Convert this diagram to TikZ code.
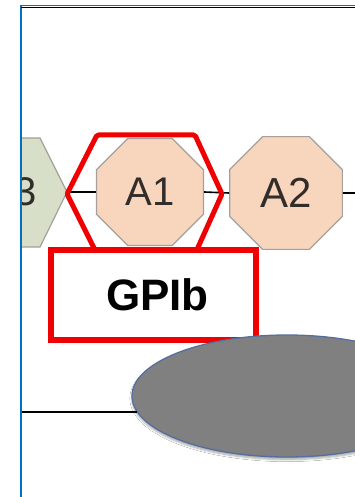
\documentclass[tikz,border=0pt]{standalone}
\usepackage{fontspec}
\setmainfont{Liberation Sans}
\usetikzlibrary{shapes.geometric,shadows.blur}
\definecolor{peach}{HTML}{F8D6BE}
\definecolor{sage}{HTML}{D7DFC8}
\definecolor{polyedge}{RGB}{165,160,155}
\definecolor{labelgray}{RGB}{50,45,40}
\definecolor{framblue}{RGB}{0,112,192}
\definecolor{gpred}{RGB}{240,0,0}
\definecolor{ellgray}{RGB}{128,128,128}
\definecolor{elledge}{RGB}{85,110,160}
\tikzset{
  domoct/.style={regular polygon, regular polygon sides=8, inner sep=0pt,
    fill=peach, draw=polyedge, line width=1.2pt, text=labelgray,
    font=\fontsize{40}{40}\selectfont},
  domlabel/.style={inner sep=0pt, text=labelgray, font=\fontsize{40}{40}\selectfont},
  hexshape/.style={fill=sage, draw=polyedge, line width=1.2pt},
  linker/.style={draw=black, line width=1.6pt},
  redmark/.style={draw=gpred, line width=5pt, line join=round, rounded corners=1.5pt},
  gpbox/.style={draw=gpred, line width=5.5pt, fill=white, minimum width=205pt,
    minimum height=90pt, inner sep=0pt, font=\fontsize{44}{44}\selectfont\bfseries},
  membrane/.style={ellipse, fill=ellgray, draw=elledge, line width=1.3pt,
    minimum width=310pt, minimum height=122pt, inner sep=0pt,
    blur shadow={shadow blur steps=6, shadow xshift=0pt, shadow yshift=-2.5pt, shadow opacity=35}}
}
\begin{document}
\begin{tikzpicture}[x=1pt,y=-1pt]
\useasboundingbox (0,0) rectangle (355,497);
\fill[white] (0,0) rectangle (355,497);
\begin{scope}
\clip (21,7) rectangle (355,497);
% D3 hexagon (partially hidden by the frame)
\filldraw[hexshape] (67,192) -- (40,138) -- (-18,138) -- (-45,192) -- (-18,247) -- (40,247) -- cycle;
\node[domlabel] (d3) at (11,192) {D3};
\coordinate (d3r) at (67,192);
% octagons
\node[domoct, minimum size=116pt] (a1) at (150,192) {A1};
\node[domoct, minimum size=122pt, font=\fontsize{42}{42}\selectfont] (a2) at (286,193) {A2};
\coordinate (rightend) at (355,193);
\draw[linker] (d3r) -- (a1.west);
\draw[linker] (a1.east) -- (a2.west);
\draw[linker] (a2.east) -- (rightend);
% red hexagon around A1
\draw[redmark] (67,194) -- (97,135) -- (195,135) -- (222,194) -- (195,254) -- (97,254) -- cycle;
% GPIb box
\node[gpbox] (gp) at (153.5,295) {\hspace*{8pt}GPIb};
% membrane line and ellipse
\coordinate (lineL) at (21,412);
\node[membrane] (ell) at (287,396) {};
\draw[line width=2pt] (lineL) -- (ell.186.5 |- lineL);
\end{scope}
% frame
\draw[framblue, line width=2pt] (21,5) -- (21,497);
\draw[framblue, line width=1.5pt] (21,5.5) -- (355,5.5);
\draw[black, line width=1.5pt] (21,7.5) -- (355,7.5);
\end{tikzpicture}
\end{document}
